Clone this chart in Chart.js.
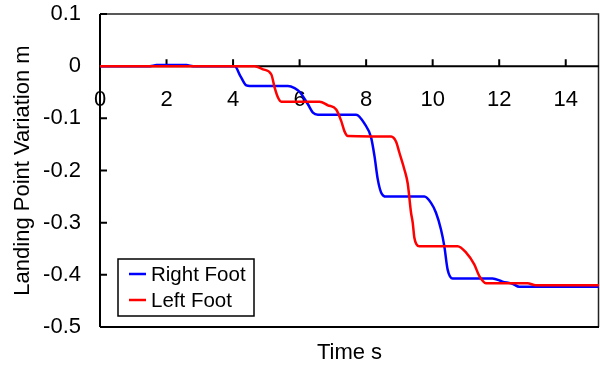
<!DOCTYPE html>
<html>
<head>
<meta charset="utf-8">
<script src="https://cdn.jsdelivr.net/npm/chart.js@4/dist/chart.umd.min.js"></script>
<style>
  html, body { margin: 0; padding: 0; background: #ffffff; }
  #wrap { width: 600px; height: 366px; }
</style>
</head>
<body>
<div id="wrap"><canvas id="chart" width="600" height="366"></canvas></div>
<script>
(function () {
  'use strict';

  // time (s) and landing point variation (m)
  const rightTime = [0, 1.5, 1.7, 2.6, 2.8, 4.05, 4.22, 4.4, 4.5, 5.65, 5.85, 6.0, 6.25, 6.4, 6.55,
    7.7, 7.95, 8.15, 8.25, 8.35, 8.45, 8.6, 9.75, 9.95, 10.1, 10.25, 10.35, 10.45, 10.6,
    11.8, 12.1, 12.4, 12.6, 15];
  const rightFoot = [0, 0, 0.002, 0.002, 0, 0, -0.019, -0.037, -0.038, -0.038, -0.042, -0.049, -0.073, -0.089, -0.093,
    -0.093, -0.110, -0.137, -0.172, -0.217, -0.242, -0.25, -0.25, -0.262, -0.281, -0.313, -0.345, -0.39, -0.407,
    -0.407, -0.413, -0.417, -0.423, -0.423];

  const leftTime = [0, 4.65, 4.9, 5.15, 5.25, 5.35, 5.45, 6.6, 6.85, 7.1, 7.25, 7.35, 7.45,
    8.75, 8.9, 9.0, 9.15, 9.25, 9.35, 9.4, 9.45, 9.52, 9.6, 10.75, 11.0, 11.25, 11.4, 11.6,
    12.85, 13.1, 15];
  const leftFoot = [0, 0, -0.006, -0.016, -0.041, -0.06, -0.068, -0.068, -0.075, -0.083, -0.105, -0.125, -0.134,
    -0.135, -0.145, -0.166, -0.198, -0.225, -0.281, -0.30, -0.329, -0.342, -0.345, -0.345, -0.357, -0.38, -0.402, -0.416,
    -0.416, -0.42, -0.42];

  const seriesNames = ['Right Foot', 'Left Foot'];
  const seriesColors = ['#0000ff', '#ff0000'];
  const xTitle = 'Time s';
  const yTitle = 'Landing Point Variation m';

  const toPoints = (xs, ys) => xs.map((x, i) => ({ x: x, y: ys[i] }));
  const FAMILY = 'Arial, "Liberation Sans", sans-serif';
  const FONT = { family: FAMILY, size: 22 };

  // frame, axis lines and inward tick marks (drawn under the curves)
  const framePlugin = {
    id: 'frame',
    beforeDatasetsDraw(chart) {
      const { ctx, chartArea: a, scales } = chart;
      const y0 = scales.y.getPixelForValue(0);
      ctx.save();
      ctx.strokeStyle = '#222222';
      ctx.lineWidth = 1.5;
      ctx.beginPath();
      ctx.moveTo(a.left, a.top);
      ctx.lineTo(a.right - 0.5, a.top);
      ctx.lineTo(a.right - 0.5, a.bottom);
      ctx.stroke();
      ctx.strokeStyle = '#000000';
      ctx.lineWidth = 2;
      ctx.beginPath();
      ctx.moveTo(a.left, a.bottom);
      ctx.lineTo(a.right, a.bottom);
      ctx.moveTo(a.left, a.top);
      ctx.lineTo(a.left, a.bottom);
      ctx.moveTo(a.left, y0);
      ctx.lineTo(a.right, y0);
      scales.x.ticks.forEach(t => {
        const px = scales.x.getPixelForValue(t.value);
        ctx.moveTo(px, y0);
        ctx.lineTo(px, y0 - 7);
      });
      scales.y.ticks.forEach(t => {
        const py = scales.y.getPixelForValue(t.value);
        ctx.moveTo(a.left, py);
        ctx.lineTo(a.left + 7, py);
      });
      ctx.stroke();
      ctx.restore();
    },
    afterDatasetsDraw(chart) {
      const { ctx, chartArea: a } = chart;
      const bx = a.left + 18, by = a.bottom - 68, bw = 136, bh = 57;
      ctx.save();
      ctx.fillStyle = '#ffffff';
      ctx.fillRect(bx, by, bw, bh);
      ctx.strokeStyle = '#000000';
      ctx.lineWidth = 1.5;
      ctx.strokeRect(bx, by, bw, bh);
      ctx.font = '20.5px ' + FAMILY;
      ctx.textBaseline = 'middle';
      ctx.fillStyle = '#000000';
      chart.data.datasets.forEach((ds, i) => {
        const ly = by + 15 + i * 26;
        ctx.strokeStyle = ds.borderColor;
        ctx.lineWidth = 2.5;
        ctx.beginPath();
        ctx.moveTo(bx + 11, ly);
        ctx.lineTo(bx + 28, ly);
        ctx.stroke();
        ctx.fillText(ds.label, bx + 33, ly + 1);
      });
      ctx.restore();
    },
  };

  new Chart(document.getElementById('chart'), {
    type: 'line',
    data: {
      datasets: [
        {
          label: seriesNames[0],
          data: toPoints(rightTime, rightFoot),
          borderColor: seriesColors[0],
          borderWidth: 2.5,
          pointRadius: 0,
          cubicInterpolationMode: 'monotone',
          order: 1,
        },
        {
          label: seriesNames[1],
          data: toPoints(leftTime, leftFoot),
          borderColor: seriesColors[1],
          borderWidth: 2.5,
          pointRadius: 0,
          cubicInterpolationMode: 'monotone',
          order: 0,
        },
      ],
    },
    options: {
      responsive: false,
      animation: false,
      layout: { padding: { top: 14, right: 1, left: 0, bottom: 0 } },
      plugins: { legend: { display: false }, tooltip: { enabled: false } },
      scales: {
        x: {
          type: 'linear',
          position: { y: 0 },
          min: 0,
          max: 15,
          grid: { display: false, drawTicks: false },
          border: { display: false },
          ticks: { stepSize: 2, includeBounds: false, color: '#000000', font: FONT, padding: 21, maxRotation: 0 },
          afterFit(scale) { scale.paddingLeft = 0; scale.paddingRight = 0; scale.paddingTop = 0; scale.paddingBottom = 0; },
        },
        x2: {
          type: 'linear',
          position: 'bottom',
          min: 0,
          max: 15,
          grid: { display: false, drawTicks: false },
          border: { display: false },
          ticks: { display: false },
          title: { display: true, text: xTitle, color: '#000000', font: FONT, padding: { top: 0, bottom: 0 } },
          afterFit(scale) { scale.height = 39; scale.paddingLeft = 0; scale.paddingRight = 0; },
        },
        y: {
          min: -0.5,
          max: 0.1,
          grid: { display: false, drawTicks: false },
          border: { display: false },
          ticks: {
            stepSize: 0.1,
            color: '#000000',
            font: FONT,
            padding: 19,
            callback: v => String(Math.round(v * 10) / 10),
          },
          title: { display: true, text: yTitle, color: '#000000', font: FONT, padding: { top: 10, bottom: 0 } },
          afterFit(scale) { scale.width = 100; scale.paddingTop = 0; scale.paddingBottom = 0; },
        },
      },
    },
    plugins: [framePlugin],
  });

})();
</script>
</body>
</html>
